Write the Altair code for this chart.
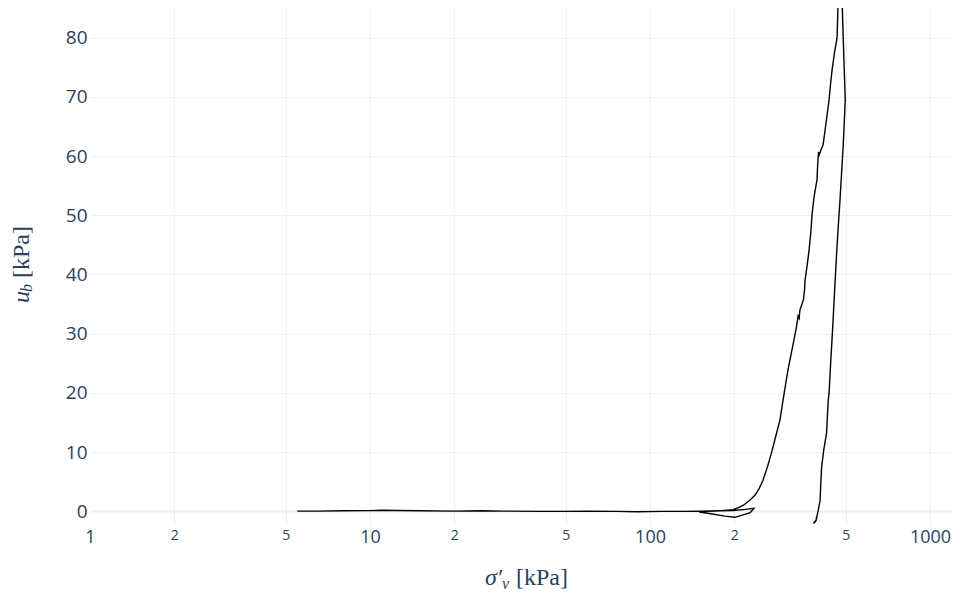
import altair as alt
import pandas as pd

# effective vertical stress [kPa] and base pore pressure [kPa], path order
sigma_v = [5.5, 6.5, 8, 10, 11, 12.5, 15, 20, 25, 30, 40, 50, 60, 75, 90, 110, 130, 155, 175, 198, 215, 235,
           228, 215, 201, 185, 165, 150,
           160, 180, 197.9, 206, 214.9, 226, 237, 245, 253, 263, 273, 282, 291, 298.6, 305, 311, 318, 324,
           333, 338, 341, 343, 353, 356, 358, 364, 370, 375, 379, 384, 388, 395, 396, 398, 400, 399, 404,
           410, 415, 425, 436, 441, 447, 456, 465.6, 469, 473,
           488, 486, 492, 498, 490, 477, 470, 464, 456, 448, 441, 436, 433, 427, 417, 410, 407, 405, 401,
           399, 396, 392, 395, 389, 393, 386, 390, 383]
u_b = [0.05, 0.05, 0.1, 0.12, 0.2, 0.15, 0.1, 0.05, 0.1, 0.05, 0.0, 0.0, 0.05, 0.0, -0.05, 0.0, 0.0, 0.05, 0.1, 0.15, 0.3, 0.5,
       -0.2, -0.6, -1.0, -0.8, -0.4, -0.1,
       0.0, 0.1, 0.3, 0.6, 1.0, 1.8, 2.7, 3.8, 5.2, 7.6, 10.3, 12.9, 15.4, 18.8, 21.5, 23.9, 26.2, 28.1,
       31.0, 33.0, 32.6, 34.0, 35.7, 37.2, 39.1, 41.5, 44.2, 47.0, 50.1, 52.5, 54.0, 56.0, 57.5, 59.4, 60.7, 59.8, 60.5,
       61.3, 61.9, 65.5, 69.5, 72.0, 74.6, 77.5, 80.0, 85.1, 90.0,
       90.0, 85.1, 77.0, 69.5, 62.0, 52.6, 48.0, 43.7, 37.0, 30.1, 24.5, 20.0, 18.8, 13.2, 10.3, 7.4, 4.5, 1.9, 0.8,
       0.2, -0.5, -1.2, -1.0, -1.8, -1.4, -2.0, -1.6, -2.0]

x_ticks = [1, 2, 5, 10, 20, 50, 100, 200, 500, 1000]
y_ticks = [0, 10, 20, 30, 40, 50, 60, 70, 80]

df = pd.DataFrame({"sigma_v": sigma_v, "u_b": u_b, "i": list(range(len(sigma_v)))})

major = "datum.value == 1 || datum.value == 10 || datum.value == 100 || datum.value == 1000"
TXT = "#2a3f5f"
GRID = "#EBF0F8"

line = alt.Chart(df).mark_line(color="black", strokeWidth=1.4, clip=True).encode(
    x=alt.X("sigma_v:Q",
            scale=alt.Scale(type="log", domain=[1, 1198], nice=False),
            axis=alt.Axis(values=x_ticks, format="d",
                          labelExpr=f"({major}) ? datum.label : substring(datum.label, 0, 1)",
                          labelFontSize={"condition": {"test": major, "value": 18}, "value": 14},
                          labelFont="Open Sans", labelColor=TXT, ticks=False, domain=False,
                          gridColor=GRID,
                          gridOpacity={"condition": {"test": "datum.value == 1", "value": 0}, "value": 1},
                          labelPadding=3, title=None, labelFlush=False, labelOverlap=False)),
    y=alt.Y("u_b:Q",
            scale=alt.Scale(domain=[-2.3, 85], nice=False, zero=False),
            axis=alt.Axis(values=y_ticks, labelFontSize=19, labelFont="Open Sans", labelColor=TXT,
                          ticks=False, domain=False, gridColor=GRID,
                          gridWidth={"condition": {"test": "datum.value == 0", "value": 2}, "value": 1},
                          labelPadding=3, title=None, labelFlush=False, labelOverlap=False)),
    order="i:Q",
)

one = pd.DataFrame({"k": [0]})
SERIF = "Liberation Serif"

def txt(s, x, y, size, italic=False, angle=0, align="left", baseline="alphabetic"):
    return alt.Chart(one).mark_text(text=s, font=SERIF, fontSize=size, color=TXT,
                                    fontStyle="italic" if italic else "normal",
                                    angle=angle, align=align, baseline=baseline).encode(
        x=alt.value(x), y=alt.value(y))

titles = [
    txt("σ′", 395, 577, 24, italic=True),
    txt("v", 412, 581, 16, italic=True),
    txt("[kPa]", 426, 577, 24),
    txt("u", -61, 295, 24, italic=True, angle=270),
    txt("b", -58, 284, 16, italic=True, angle=270),
    txt("[kPa]", -61, 270, 24, angle=270),
]

chart = alt.layer(line, *titles).properties(
    width=862, height=517,
    autosize=alt.AutoSizeParams(type="none"),
    padding={"left": 82, "top": 0, "right": 0, "bottom": 66},
    background="white",
).configure_view(stroke=None)

chart.save("out.html", embed_options={"renderer": "svg", "actions": False})
